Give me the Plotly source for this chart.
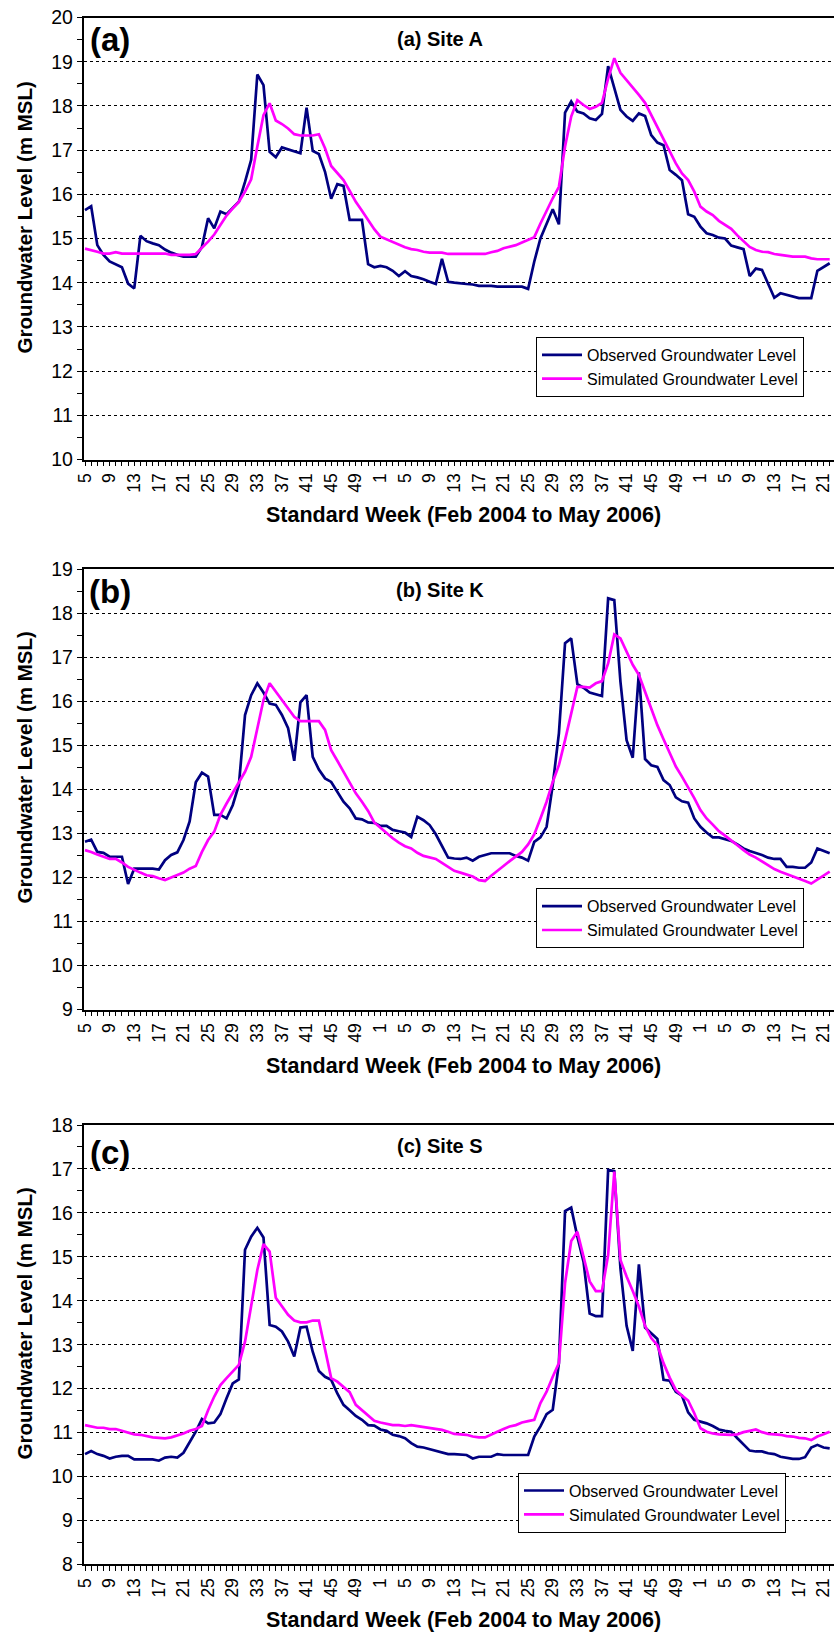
import plotly.graph_objects as go

# ---------------- data ----------------
weeks_2004 = list(range(5, 53))
weeks_2005 = list(range(1, 53))
weeks_2006 = list(range(1, 23))
week_labels = [str(w) for w in weeks_2004 + weeks_2005 + weeks_2006]

obs_a = [15.64, 15.73, 14.85, 14.63, 14.48, 14.42, 14.35, 13.98, 13.87, 15.06,
         14.94, 14.89, 14.85, 14.75, 14.68, 14.63, 14.59, 14.59, 14.59, 14.81,
         15.46, 15.23, 15.61, 15.55, 15.68, 15.83, 16.28, 16.78, 18.71, 18.47,
         16.96, 16.84, 17.06, 17.02, 16.98, 16.93, 17.96, 16.98, 16.91, 16.51,
         15.90, 16.23, 16.19, 15.42, 15.42, 15.42, 14.42, 14.35, 14.38, 14.35,
         14.27, 14.15, 14.26, 14.15, 14.12, 14.08, 14.02, 13.97, 14.54, 14.02,
         14.00, 13.98, 13.97, 13.96, 13.93, 13.93, 13.93, 13.91, 13.91, 13.91,
         13.91, 13.91, 13.86, 14.48, 15.00, 15.34, 15.66, 15.32, 17.85, 18.10,
         17.87, 17.83, 17.72, 17.68, 17.82, 18.90, 18.43, 17.91, 17.76, 17.66,
         17.83, 17.77, 17.34, 17.17, 17.11, 16.55, 16.44, 16.32, 15.55, 15.49,
         15.27, 15.12, 15.08, 15.02, 15.00, 14.84, 14.80, 14.76, 14.15, 14.32,
         14.29, 13.98, 13.66, 13.76, 13.72, 13.68, 13.65, 13.65, 13.65, 14.27,
         14.35, 14.44]
sim_a = [14.77, 14.74, 14.70, 14.66, 14.66, 14.69, 14.66, 14.66, 14.66, 14.66,
         14.66, 14.66, 14.66, 14.66, 14.63, 14.63, 14.63, 14.63, 14.65, 14.78,
         14.93, 15.09, 15.30, 15.52, 15.68, 15.83, 16.06, 16.34, 17.08, 17.79,
         18.06, 17.67, 17.59, 17.49, 17.36, 17.33, 17.33, 17.33, 17.36, 17.04,
         16.64, 16.49, 16.32, 16.08, 15.83, 15.63, 15.42, 15.21, 15.04, 14.98,
         14.91, 14.85, 14.80, 14.76, 14.74, 14.70, 14.68, 14.68, 14.68, 14.65,
         14.65, 14.65, 14.65, 14.65, 14.65, 14.65, 14.69, 14.72, 14.78, 14.81,
         14.85, 14.91, 14.97, 15.03, 15.34, 15.64, 15.91, 16.17, 17.08, 17.76,
         18.13, 18.02, 17.93, 17.98, 18.07, 18.62, 19.08, 18.75, 18.59, 18.41,
         18.25, 18.07, 17.79, 17.51, 17.23, 16.96, 16.70, 16.47, 16.32, 16.06,
         15.72, 15.61, 15.53, 15.40, 15.31, 15.22, 15.07, 14.93, 14.81, 14.74,
         14.70, 14.69, 14.65, 14.63, 14.61, 14.59, 14.59, 14.59, 14.55, 14.53,
         14.53, 14.53]

obs_b = [12.81, 12.86, 12.58, 12.56, 12.47, 12.47, 12.47, 11.85, 12.20, 12.20,
         12.20, 12.20, 12.18, 12.39, 12.51, 12.57, 12.85, 13.27, 14.16, 14.38,
         14.29, 13.42, 13.42, 13.34, 13.64, 14.10, 15.69, 16.14, 16.41, 16.20,
         15.95, 15.92, 15.69, 15.39, 14.65, 15.98, 16.14, 14.74, 14.45, 14.25,
         14.17, 13.93, 13.72, 13.57, 13.34, 13.32, 13.25, 13.24, 13.17, 13.17,
         13.08, 13.05, 13.02, 12.92, 13.38, 13.30, 13.19, 12.98, 12.73, 12.45,
         12.43, 12.42, 12.45, 12.38, 12.47, 12.51, 12.55, 12.55, 12.55, 12.55,
         12.49, 12.45, 12.38, 12.81, 12.91, 13.15, 14.10, 15.27, 17.32, 17.43,
         16.39, 16.31, 16.20, 16.16, 16.12, 18.34, 18.30, 16.45, 15.12, 14.72,
         16.66, 14.69, 14.55, 14.51, 14.21, 14.10, 13.82, 13.73, 13.70, 13.34,
         13.15, 13.02, 12.91, 12.91, 12.87, 12.83, 12.75, 12.66, 12.60, 12.56,
         12.51, 12.45, 12.42, 12.42, 12.24, 12.24, 12.22, 12.22, 12.34, 12.66,
         12.61, 12.55]
sim_b = [12.62, 12.58, 12.52, 12.47, 12.42, 12.42, 12.34, 12.24, 12.17, 12.11,
         12.05, 12.03, 11.98, 11.94, 12.00, 12.05, 12.11, 12.20, 12.26, 12.58,
         12.85, 13.04, 13.42, 13.68, 13.91, 14.17, 14.40, 14.74, 15.39, 16.03,
         16.41, 16.22, 16.03, 15.83, 15.65, 15.55, 15.55, 15.55, 15.55, 15.35,
         14.89, 14.65, 14.40, 14.16, 13.91, 13.72, 13.51, 13.25, 13.13, 13.00,
         12.89, 12.79, 12.71, 12.66, 12.56, 12.49, 12.45, 12.42, 12.33, 12.24,
         12.15, 12.11, 12.06, 12.02, 11.94, 11.92, 12.04, 12.14, 12.26, 12.37,
         12.48, 12.58, 12.75, 12.98, 13.34, 13.72, 14.17, 14.55, 15.12, 15.73,
         16.33, 16.33, 16.31, 16.41, 16.46, 16.86, 17.52, 17.43, 17.13, 16.83,
         16.60, 16.22, 15.84, 15.46, 15.14, 14.82, 14.52, 14.29, 14.06, 13.80,
         13.53, 13.34, 13.20, 13.05, 12.95, 12.85, 12.73, 12.62, 12.52, 12.45,
         12.36, 12.28, 12.19, 12.13, 12.08, 12.03, 11.98, 11.92, 11.86, 11.95,
         12.05, 12.13]

obs_c = [10.51, 10.58, 10.51, 10.47, 10.41, 10.45, 10.47, 10.47, 10.39, 10.39,
         10.39, 10.39, 10.36, 10.43, 10.45, 10.43, 10.54, 10.79, 11.02, 11.31,
         11.21, 11.23, 11.42, 11.78, 12.12, 12.21, 15.16, 15.46, 15.66, 15.44,
         13.45, 13.41, 13.30, 13.07, 12.73, 13.39, 13.41, 12.84, 12.40, 12.27,
         12.20, 11.89, 11.63, 11.51, 11.38, 11.29, 11.17, 11.16, 11.07, 11.04,
         10.95, 10.92, 10.87, 10.76, 10.68, 10.66, 10.62, 10.58, 10.54, 10.51,
         10.51, 10.50, 10.49, 10.41, 10.45, 10.45, 10.45, 10.51, 10.49, 10.49,
         10.49, 10.49, 10.49, 10.91, 11.14, 11.42, 11.52, 12.58, 16.04, 16.12,
         15.46, 14.89, 13.71, 13.65, 13.65, 16.98, 16.95, 14.74, 13.43, 12.86,
         14.83, 13.39, 13.26, 13.13, 12.20, 12.18, 11.93, 11.84, 11.46, 11.29,
         11.25, 11.21, 11.15, 11.07, 11.04, 11.02, 10.87, 10.72, 10.59, 10.57,
         10.57, 10.53, 10.51, 10.45, 10.43, 10.40, 10.40, 10.44, 10.66, 10.72,
         10.66, 10.64]
sim_c = [11.17, 11.14, 11.11, 11.11, 11.08, 11.08, 11.04, 11.01, 10.96, 10.95,
         10.92, 10.89, 10.88, 10.87, 10.89, 10.93, 10.98, 11.04, 11.08, 11.15,
         11.51, 11.82, 12.08, 12.24, 12.39, 12.54, 13.07, 13.87, 14.70, 15.29,
         15.12, 14.07, 13.87, 13.68, 13.55, 13.51, 13.51, 13.55, 13.55, 12.92,
         12.24, 12.16, 12.05, 11.92, 11.63, 11.51, 11.38, 11.27, 11.23, 11.20,
         11.17, 11.17, 11.15, 11.17, 11.15, 11.12, 11.10, 11.08, 11.06, 11.02,
         10.97, 10.96, 10.95, 10.91, 10.89, 10.89, 10.96, 11.02, 11.08, 11.14,
         11.17, 11.23, 11.26, 11.29, 11.67, 11.93, 12.27, 12.58, 14.40, 15.36,
         15.57, 15.00, 14.44, 14.22, 14.22, 15.04, 16.94, 14.93, 14.55, 14.22,
         13.87, 13.43, 13.15, 12.99, 12.58, 12.25, 11.97, 11.84, 11.73, 11.44,
         11.10, 11.02, 10.98, 10.96, 10.95, 10.95, 10.96, 11.01, 11.04, 11.07,
         11.01, 10.97, 10.96, 10.95, 10.92, 10.91, 10.88, 10.87, 10.83, 10.91,
         10.96, 11.02]

panels = [
    dict(obs=obs_a, sim=sim_a, yr=[10, 20], title="(a) Site A", tag="(a)"),
    dict(obs=obs_b, sim=sim_b, yr=[9, 19], title="(b) Site K", tag="(b)"),
    dict(obs=obs_c, sim=sim_c, yr=[8, 18], title="(c) Site S", tag="(c)"),
]

# ---------------- layout geometry (pixels) ----------------
W, H = 834, 1633
FONT = "Arial, 'Liberation Sans', sans-serif"
plot_left = 83.5
plot_tops = [17.5, 569.3, 1125.0]
plot_bots = [459.5, 1009.5, 1564.4]
ytitle_cy = [217.5, 767.5, 1323.4]
xtitle_cy = [515, 1066, 1620]
title_cy = [39, 590, 1145.5]
tag_cy = [40, 591, 1152]
legend_pos = [(536, 337), (536, 888.3), (518, 1472.6)]

def py(p):
    return 1 - p / H

x_idx = list(range(len(week_labels)))
tick_text = [lab if i % 4 == 0 else "" for i, lab in enumerate(week_labels)]

fig = go.Figure()
layout = dict(
    template="none",
    width=W, height=H,
    margin=dict(l=0, r=0, t=0, b=0, pad=0, autoexpand=False),
    paper_bgcolor="white", plot_bgcolor="white",
    font=dict(family=FONT, color="black"),
    showlegend=True,
    annotations=[],
)

for k, p in enumerate(panels):
    n = "" if k == 0 else str(k + 1)
    xa, ya = "x" + n, "y" + n
    leg = "legend" + n
    fig.add_trace(go.Scatter(
        x=x_idx, y=p["obs"], mode="lines", name="Observed Groundwater Level",
        line=dict(color="#000080", width=2.7), xaxis=xa, yaxis=ya, legend=leg,
        legendgroup="obs" + n, cliponaxis=True))
    fig.add_trace(go.Scatter(
        x=x_idx, y=p["sim"], mode="lines", name="Simulated Groundwater Level",
        line=dict(color="#FF00FF", width=2.7), xaxis=xa, yaxis=ya, legend=leg,
        legendgroup="sim" + n, cliponaxis=True))

    layout["xaxis" + n] = dict(
        domain=[plot_left / W, 1.0],
        range=[-0.244, 121.7],
        anchor=ya, automargin=False,
        tickmode="array", tickvals=x_idx, ticktext=tick_text,
        tickangle=-90, ticks="outside", ticklen=5, tickwidth=1, tickcolor="black",
        tickfont=dict(family=FONT, size=17.5, color="black"),
        ticklabeloverflow="allow",
        showline=True, linecolor="black", linewidth=1.5, mirror=True,
        showgrid=False, zeroline=False, fixedrange=True,
    )
    layout["yaxis" + n] = dict(
        domain=[py(plot_bots[k]), py(plot_tops[k])],
        range=p["yr"], anchor=xa, automargin=False,
        tickmode="linear", tick0=0, dtick=1,
        ticks="outside", ticklen=5, tickwidth=1, tickcolor="black",
        tickfont=dict(family=FONT, size=19.5, color="black"),
        ticklabeloverflow="allow",
        minor=dict(dtick=0.5, ticks="outside", ticklen=5, tickwidth=1,
                   tickcolor="black", showgrid=False),
        showline=True, linecolor="black", linewidth=1.5,
        showgrid=True, gridcolor="black", gridwidth=1, griddash="dot",
        zeroline=False, fixedrange=True,
    )
    lx, ly = legend_pos[k]
    layout[leg] = dict(
        x=lx / W, y=py(ly), xanchor="left", yanchor="top",
        bordercolor="black", borderwidth=1, bgcolor="white",
        font=dict(family=FONT, size=16, color="black"),
        traceorder="normal", tracegroupgap=4, itemwidth=40,
    )
    ann = layout["annotations"]
    ann.append(dict(text="Groundwater Level (m MSL)", textangle=-90,
                    x=24 / W, y=py(ytitle_cy[k]), xref="paper", yref="paper",
                    showarrow=False, xanchor="center", yanchor="middle",
                    font=dict(family=FONT, size=20.5, color="black", weight="bold")))
    ann.append(dict(text="Standard Week (Feb 2004 to May 2006)",
                    x=463 / W, y=py(xtitle_cy[k]), xref="paper", yref="paper",
                    showarrow=False, xanchor="center", yanchor="middle",
                    font=dict(family=FONT, size=21.5, color="black", weight="bold")))
    ann.append(dict(text=p["title"],
                    x=439.5 / W, y=py(title_cy[k]), xref="paper", yref="paper",
                    showarrow=False, xanchor="center", yanchor="middle",
                    font=dict(family=FONT, size=20, color="black", weight="bold")))
    ann.append(dict(text=p["tag"],
                    x=110 / W, y=py(tag_cy[k]), xref="paper", yref="paper",
                    showarrow=False, xanchor="center", yanchor="middle",
                    font=dict(family=FONT, size=33, color="black", weight="bold")))

fig.update_layout(**layout)
fig.write_html("out.html")
